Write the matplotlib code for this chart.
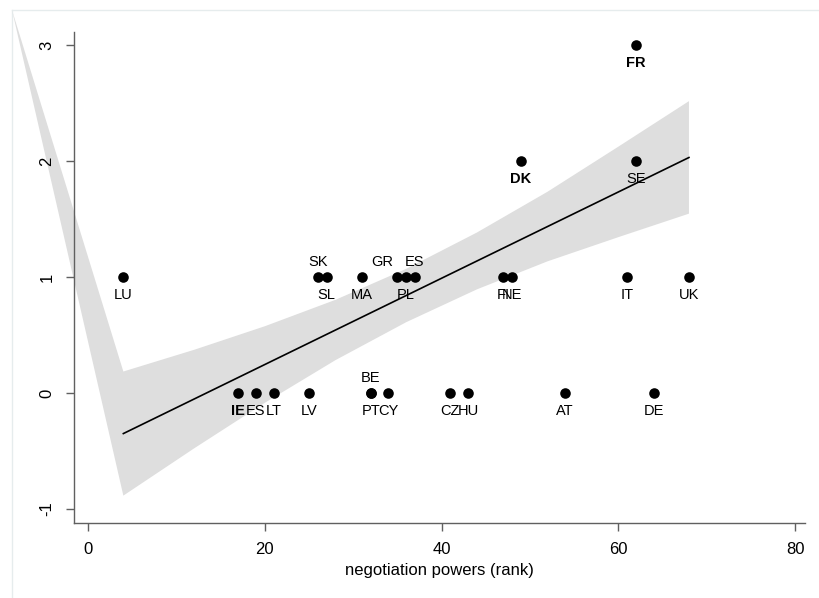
import matplotlib
matplotlib.use("Agg")
import matplotlib.pyplot as plt
from matplotlib.patches import Polygon
from matplotlib.lines import Line2D

plt.rcParams['font.family'] = ['Liberation Sans', 'DejaVu Sans']

# ---- data ----
countries = ["LU", "IE", "ES", "LT", "LV", "SK", "SL", "MA", "BE", "PT", "CY",
             "GR", "PL", "ES", "CZ", "HU", "FI", "NE", "DK", "AT", "IT", "SE",
             "FR", "DE", "UK"]
rank = [4, 17, 19, 21, 25, 26, 27, 31, 32, 32, 34,
        35, 36, 37, 41, 43, 47, 48, 49, 54, 61, 62,
        62, 64, 68]
score = [1, 0, 0, 0, 0, 1, 1, 1, 0, 0, 0,
         1, 1, 1, 0, 0, 1, 1, 2, 0, 1, 2,
         3, 0, 1]
# label clock position (Stata style)
label_pos = [6, 6, 6, 6, 6, 12, 6, 6, 12, 6, 6,
             11, 6, 12, 6, 6, 6, 6, 6, 6, 6, 6,
             6, 6, 6]
bold_labels = ["IE", "DK", "FR"]

# fitted line and confidence band
fit_x = [4, 68]
fit_y = [-0.35, 2.03]
ci_x = [4, 12, 20, 28, 36, 44, 52, 60, 68]
ci_upper = [0.185, 0.372, 0.575, 0.803, 1.070, 1.383, 1.735, 2.123, 2.516]
ci_lower = [-0.885, -0.478, -0.085, 0.283, 0.610, 0.893, 1.135, 1.343, 1.546]

x_ticks = [0, 20, 40, 60, 80]
y_ticks = [-1, 0, 1, 2, 3]
x_label = "negotiation powers (rank)"

# ---- figure ----
W, H = 819, 598
fig = plt.figure(figsize=(W / 100, H / 100), dpi=100)
fig.patch.set_facecolor("white")
ax = fig.add_axes([74 / W, 1 - 523 / H, 731 / W, 491 / H])
ax.set_xlim(-1.584, 81.13)
ax.set_ylim(-1.121, 3.112)
ax.set_facecolor("none")

band_col = "#dedede"
# CI band drawn as one polygon; its outline runs to the graph-region corner
# (as in the original rendering)
to_fig = ax.transData + fig.transFigure.inverted()
upper_pts = [to_fig.transform((xv, yv)) for xv, yv in zip(ci_x, ci_upper)]
lower_pts = [to_fig.transform((xv, yv)) for xv, yv in zip(ci_x, ci_lower)][::-1]
corner = (12 / W, 1 - 10 / H)
band = Polygon(upper_pts + lower_pts + [corner], closed=True,
               transform=fig.transFigure, facecolor=band_col, edgecolor="none",
               clip_on=False, zorder=1)
ax.add_patch(band)

ax.plot(fit_x, fit_y, color="black", lw=1.2, zorder=3)
ax.scatter(rank, score, s=58, color="black", zorder=4, linewidths=0)

off_up = 10.5
off_dn = 13.0
for c, xv, yv, p in zip(countries, rank, score, label_pos):
    fw = "bold" if c in bold_labels else "normal"
    if p == 12:
        dx, dy, ha = 0, off_up, "center"
    elif p == 11:
        dx, dy, ha = -3, off_up, "right"
    else:
        dx, dy, ha = 0, -off_dn, "center"
    ax.annotate(c, (xv, yv), xytext=(dx, dy), textcoords="offset points",
                ha=ha, va="center", fontsize=10.5, fontweight=fw,
                color="black", zorder=5)

# spines / ticks in Stata style
for s in ["top", "right"]:
    ax.spines[s].set_visible(False)
for s in ["left", "bottom"]:
    ax.spines[s].set_color("#606060")
    ax.spines[s].set_linewidth(1.0)
    ax.spines[s].set_zorder(2.5)
ax.set_xticks(x_ticks)
ax.set_yticks(y_ticks)
ax.set_xticklabels([str(v) for v in x_ticks])
ax.set_yticklabels([str(v) for v in y_ticks], rotation=90, va="center")
ax.tick_params(axis="both", direction="out", length=6, width=1.0,
               color="#606060", labelsize=12, labelcolor="black", pad=8)
ax.set_xlabel(x_label, fontsize=12, labelpad=4)

# faint outer graph-region frame
frame_col = "#e6eced"
fig.add_artist(Line2D([12 / W, 12 / W], [0, 1 - 10 / H], transform=fig.transFigure,
                      color=frame_col, lw=1.0, zorder=-1))
fig.add_artist(Line2D([12 / W, 1], [1 - 10 / H, 1 - 10 / H], transform=fig.transFigure,
                      color=frame_col, lw=1.0, zorder=-1))

fig.savefig("out.png", dpi=100, facecolor="white")
